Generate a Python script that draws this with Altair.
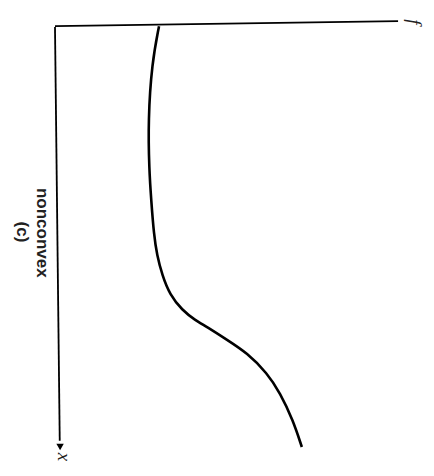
import altair as alt
import pandas as pd

# curve: position along x (vertical, downward) and value f (horizontal)
curve_x = [-0.02, 0.86, 2.21, 3.40, 4.12, 4.95, 5.43, 5.90, 6.38, 6.74, 6.98, 7.14, 7.45, 7.76, 8.24, 8.71, 9.36, 10.0]
curve_f = [3.06, 2.85, 2.74, 2.77, 2.83, 2.91, 3.00, 3.15, 3.38, 3.74, 4.12, 4.47, 5.06, 5.65, 6.24, 6.62, 7.00, 7.26]

# axes (hand-drawn, slightly tilted as in the scan)
f_axis_x = [-0.02, -0.14]
f_axis_f = [0.0, 10.09]
x_axis_x = [0.0, 9.85]
x_axis_f = [0.0, 0.14]

arrow_x = [10.0]
arrow_f = [0.15]

label_text = ["nonconvex", "(c)"]
label_x = [4.90, 4.88]
label_f = [-0.38, -0.98]

var_text = ["f", "x"]
var_x = [-0.12, 10.24]
var_f = [10.56, 0.26]

fsc = alt.Scale(domain=[-1.382, 10.912], nice=False, zero=False)
xsc = alt.Scale(domain=[-0.452, 10.5], nice=False, zero=False, reverse=True)

def enc_xy():
    return dict(
        x=alt.X("f:Q", scale=fsc, axis=None),
        y=alt.Y("x:Q", scale=xsc, axis=None),
    )

cdf = pd.DataFrame({"x": curve_x, "f": curve_f, "i": range(len(curve_x))})
curve = alt.Chart(cdf).mark_line(
    color="black", strokeWidth=2.6, interpolate="basis"
).encode(order="i:Q", **enc_xy())

fa = pd.DataFrame({"x": f_axis_x, "f": f_axis_f, "i": [0, 1]})
fline = alt.Chart(fa).mark_line(color="black", strokeWidth=1.8).encode(order="i:Q", **enc_xy())

xa = pd.DataFrame({"x": x_axis_x, "f": x_axis_f, "i": [0, 1]})
xline = alt.Chart(xa).mark_line(color="black", strokeWidth=1.8).encode(order="i:Q", **enc_xy())

arr = alt.Chart(pd.DataFrame({"x": arrow_x, "f": arrow_f})).mark_point(
    shape="triangle-down", filled=True, color="black", size=55, opacity=1
).encode(**enc_xy())

labels = alt.Chart(pd.DataFrame({"x": label_x, "f": label_f, "t": label_text})).mark_text(
    angle=90, align="center", baseline="middle", font="Liberation Sans",
    fontSize=17, fontWeight="bold", color="#222"
).encode(text="t:N", **enc_xy())

vars_ = alt.Chart(pd.DataFrame({"x": var_x, "f": var_f, "t": var_text})).mark_text(
    angle=90, align="center", baseline="middle", font="Liberation Serif",
    fontSize=19, fontStyle="italic", color="#222"
).encode(text="t:N", **enc_xy())

chart = alt.layer(fline, xline, arr, curve, labels, vars_).properties(
    width=418, height=460,
    autosize=alt.AutoSizeParams(type="fit", contains="padding"),
    padding=0,
    background="white",
).configure_view(stroke=None)

chart.save("out.html", embed_options={"renderer": "svg", "actions": False})
